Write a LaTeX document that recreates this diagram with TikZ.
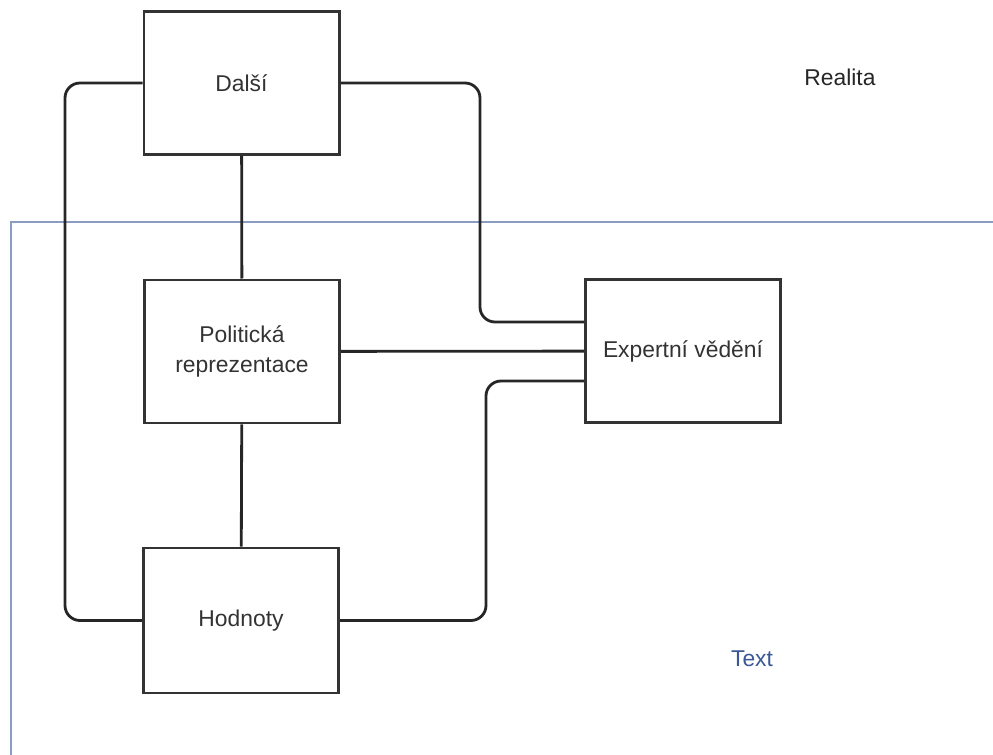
\documentclass[tikz,border=0pt]{standalone}
\usepackage{fontspec}
\setmainfont{Liberation Sans}
\usepackage{tikz}
\usetikzlibrary{positioning}
\usetikzlibrary{calc}

\begin{document}
\begin{tikzpicture}[
            x=0.2mm,
            y=-0.2mm,
            blok/.style={
                rectangle,
                draw=black!80,
                fill=white,
                line width=1.7pt,
                minimum width=39mm,
                minimum height=28.6mm,
                inner sep=2pt,
                align=center,
                text=black!80,
                font=\fontsize{13}{17}\selectfont
            },
            spoj/.style={
                draw=black!85,
                line width=1.6pt,
                rounded corners=3mm
            },
            ramec/.style={
                draw={rgb,255:red,138;green,156;blue,192},
                line width=1.1pt
            },
            lab/.style={
                font=\fontsize{13}{17}\selectfont
            }
        ]

            % Page
            \clip (0,0) rectangle (993,755);

            % Frame of the text
            \draw[ramec] (11,222) rectangle (1010,790);

            % Blocks
            \node[blok] (dalsi) at (241.5,83) {Další};
            \node[blok] (politicka) at (242,351.5) {Politická\\reprezentace};
            \node[blok, minimum height=29mm] (hodnoty) at (241,620.5) {Hodnoty};
            \node[blok] (expert) at (683,351) {Expertní vědění};

            % Links along the middle column
            \draw[spoj] (dalsi) -- (politicka);
            \draw[spoj] (politicka) -- (hodnoty);
            \draw[spoj] (politicka) -- (expert);

            % Links round the outside
            \draw[spoj] (dalsi.east) -| (480,200) |- (expert.west |- 0,322);
            \draw[spoj] (hodnoty.east) -| (486,500) |- (expert.west |- 0,381);
            \draw[spoj] (dalsi.west) -| (65,351) |- (hodnoty.west);

            % Labels
            \node[lab, text=black!85] (realita) at (840,77) {Realita};
            \node[lab, text={rgb,255:red,58;green,88;blue,150}] (text) at (752,659) {Text};

        \end{tikzpicture}
\end{document}
